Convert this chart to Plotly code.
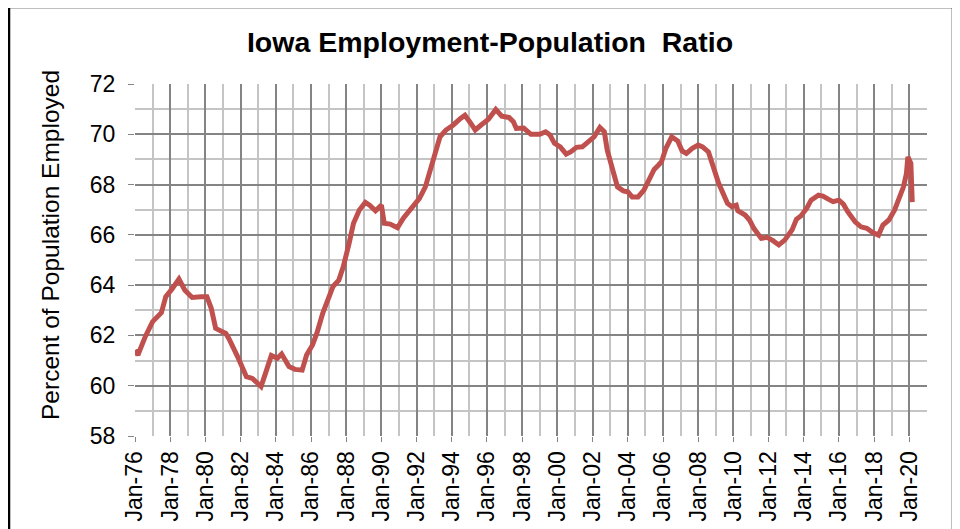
import plotly.graph_objects as go

dates = [
    "1976-01", "1976-03", "1976-08", "1977-01", "1977-07", "1977-10", "1978-02", "1978-07",
    "1978-11", "1979-04", "1979-10", "1980-02", "1980-05", "1980-08", "1981-03", "1981-05",
    "1981-11", "1982-05", "1982-09", "1983-03", "1983-06", "1983-10", "1984-02", "1984-05",
    "1984-10", "1985-02", "1985-07", "1985-10", "1986-02", "1986-05", "1986-09", "1986-12",
    "1987-04", "1987-08", "1987-11", "1988-03", "1988-06", "1988-10", "1989-02", "1989-05",
    "1989-09", "1990-01", "1990-03", "1990-07", "1990-12", "1991-04", "1991-10", "1992-03",
    "1992-07", "1992-10", "1993-02", "1993-05", "1993-09", "1994-02", "1994-07", "1994-10",
    "1995-02", "1995-05", "1995-09", "1996-02", "1996-07", "1996-11", "1997-04", "1997-07",
    "1997-09", "1998-02", "1998-07", "1999-01", "1999-05", "1999-08", "1999-11", "2000-03",
    "2000-07", "2000-10", "2001-02", "2001-06", "2001-10", "2002-02", "2002-06", "2002-09",
    "2002-11", "2003-03", "2003-06", "2003-10", "2004-01", "2004-04", "2004-08", "2004-12",
    "2005-04", "2005-07", "2005-10", "2005-12", "2006-03", "2006-07", "2006-11", "2007-02",
    "2007-05", "2007-09", "2008-01", "2008-04", "2008-08", "2008-11", "2009-03", "2009-06",
    "2009-09", "2009-12", "2010-03", "2010-04", "2010-09", "2010-12", "2011-03", "2011-08",
    "2011-12", "2012-04", "2012-08", "2012-12", "2013-05", "2013-08", "2013-11", "2014-03",
    "2014-06", "2014-11", "2015-02", "2015-06", "2015-09", "2016-01", "2016-04", "2016-07",
    "2016-12", "2017-04", "2017-08", "2017-12", "2018-04", "2018-07", "2018-11", "2019-03",
    "2019-06", "2019-09", "2019-11", "2019-12", "2020-02", "2020-03",
]
ratio = [
    61.42, 61.22, 61.95, 62.55, 62.90, 63.54, 63.83, 64.24,
    63.80, 63.51, 63.54, 63.54, 63.08, 62.28, 62.08, 61.88,
    61.15, 60.36, 60.29, 59.97, 60.49, 61.20, 61.09, 61.26,
    60.76, 60.65, 60.62, 61.22, 61.62, 62.08, 62.88, 63.34,
    63.94, 64.20, 64.73, 65.66, 66.46, 66.99, 67.29, 67.18,
    66.96, 67.18, 66.46, 66.43, 66.28, 66.66, 67.12, 67.45,
    67.91, 68.51, 69.30, 69.90, 70.17, 70.37, 70.63, 70.76,
    70.43, 70.17, 70.37, 70.60, 70.99, 70.72, 70.67, 70.50,
    70.23, 70.25, 70.00, 70.00, 70.10, 69.97, 69.64, 69.50,
    69.21, 69.30, 69.48, 69.50, 69.70, 69.90, 70.27, 70.10,
    69.37, 68.58, 67.91, 67.75, 67.71, 67.51, 67.51, 67.78,
    68.20, 68.60, 68.78, 68.91, 69.44, 69.90, 69.74, 69.34,
    69.24, 69.44, 69.57, 69.50, 69.30, 68.71, 68.05, 67.65,
    67.25, 67.12, 67.18, 66.96, 66.79, 66.59, 66.26, 65.86,
    65.90, 65.77, 65.60, 65.79, 66.19, 66.62, 66.75, 67.05,
    67.38, 67.58, 67.54, 67.41, 67.32, 67.38, 67.22, 66.92,
    66.52, 66.32, 66.26, 66.09, 65.99, 66.39, 66.59, 66.99,
    67.45, 67.91, 68.44, 69.10, 68.84, 67.30,
]

title_text = "<b>Iowa Employment-Population  Ratio</b>"
y_title = "Percent of Population Employed"

FONT = "Liberation Sans, Arial, sans-serif"

# page body adds an 8px offset; target screen positions are shifted by it
OFF = 8
W, H = 960, 529
L = 135 - OFF
T = 84 - OFF
R = W - (927 - OFF)
B = H - (436 - OFF)
pw, ph = W - L - R, H - T - B

def px_x(px):
    return (px - OFF - L) / pw

def px_y(py):
    return (H - B - (py - OFF)) / ph

fig = go.Figure()
fig.add_trace(go.Scatter(
    x=[d + "-01" for d in dates], y=ratio, mode="lines",
    line=dict(color="#C0504D", width=5),
    hoverinfo="x+y", showlegend=False,
))

fig.update_layout(
    width=W, height=H,
    margin=dict(l=L, r=R, t=T, b=B, autoexpand=False),
    paper_bgcolor="white", plot_bgcolor="white",
    font=dict(family=FONT, color="black"),
    title=dict(text=title_text, x=(490 - OFF) / W, xanchor="center",
               y=1 - (42 - OFF) / H, yanchor="middle",
               font=dict(size=28.5, family=FONT, color="black")),
    xaxis=dict(
        type="date", automargin=False,
        range=["1976-01-01", "2021-01-01"],
        tick0="1976-01-01", dtick="M24", tickformat="%b-%y",
        tickangle=-90, tickfont=dict(size=23, color="black"),
        showgrid=True, gridcolor="#848484", gridwidth=2,
        ticks="outside", ticklen=5, tickcolor="#848484", tickwidth=1,
        minor=dict(dtick="M12", showgrid=True, gridcolor="#c4c4c4", gridwidth=2),
        showline=False, zeroline=False, fixedrange=True,
    ),
    yaxis=dict(
        automargin=False,
        range=[58, 72], dtick=2, tick0=58,
        tickfont=dict(size=23, color="black"),
        showgrid=True, gridcolor="#848484", gridwidth=2,
        ticks="outside", ticklen=6, tickcolor="#848484", tickwidth=1,
        ticklabelstandoff=8,
        minor=dict(dtick=1, showgrid=True, gridcolor="#c4c4c4", gridwidth=2),
        showline=False, zeroline=False, fixedrange=True,
    ),
    annotations=[dict(
        text=y_title, xref="paper", yref="paper",
        x=px_x(50), y=px_y(245), textangle=-90, showarrow=False,
        xanchor="center", yanchor="middle",
        font=dict(size=24.5, family=FONT, color="black"),
    )],
    shapes=[dict(
        type="rect", xref="paper", yref="paper",
        x0=px_x(9), x1=px_x(953), y0=px_y(545), y1=px_y(7),
        line=dict(color="black", width=2.5), fillcolor="rgba(0,0,0,0)",
        layer="above",
    )],
)

fig.write_html("out.html")
